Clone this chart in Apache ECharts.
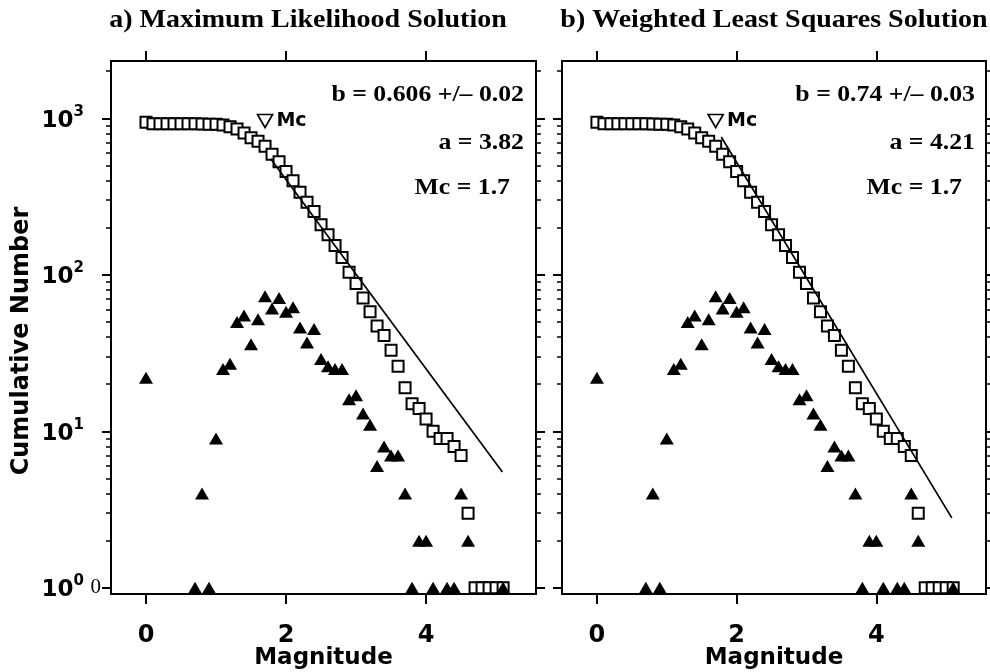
<!DOCTYPE html>
<html><head><meta charset="utf-8">
<script src="https://cdn.jsdelivr.net/npm/echarts@6/dist/echarts.min.js"></script>
<style>html,body{margin:0;padding:0;background:#fff}#c{width:990px;height:672px}</style>
</head><body><div id="c"></div>
<script>
// Cumulative number of events N(>=M)
const cumMag = [0.0,0.1,0.2,0.3,0.4,0.5,0.6,0.7,0.8,0.9,1.0,1.1,1.2,1.3,1.4,1.5,1.6,1.7,1.8,1.9,2.0,2.1,2.2,2.3,2.4,2.5,2.6,2.7,2.8,2.9,3.0,3.1,3.2,3.3,3.4,3.5,3.6,3.7,3.8,3.9,4.0,4.1,4.2,4.3,4.4,4.5,4.6,4.7,4.8,4.9,5.0,5.1];
const cumN   = [944,922,922,922,922,922,922,922,921,917,916,907,882,855,805,750,714,662,589,528,457,399,337,291,254,209,180,154,129,104,88,71,58,47,41,33,26,19,15,14,12,10,9,9,8,7,3,1,1,1,1,1];
// Non-cumulative number of events per magnitude bin
const incMag = [0.0,0.7,0.8,0.9,1.0,1.1,1.2,1.3,1.4,1.5,1.6,1.7,1.8,1.9,2.0,2.1,2.2,2.3,2.4,2.5,2.6,2.7,2.8,2.9,3.0,3.1,3.2,3.3,3.4,3.5,3.6,3.7,3.8,3.9,4.0,4.1,4.3,4.4,4.5,4.6,5.1];
const incN   = [22,1,4,1,9,25,27,50,55,36,52,73,61,71,58,62,46,37,45,29,26,25,25,16,17,13,11,6,8,7,7,4,1,2,2,1,1,1,4,2,1];
// Fitted Gutenberg-Richter lines (end points)
const mlLineMag  = [1.78, 5.09];
const mlLineN    = [551, 5.5];
const wlsLineMag = [1.78, 5.08];
const wlsLineN   = [760, 2.8];
// Magnitude of completeness marker
const mcMag = 1.7;
const mcN = 960;
// Ticks
const xTicks = [0, 2, 4];
const yMajor = [1, 10, 100, 1000];
const yMinor = [2,3,4,5,6,7,8,9,20,30,40,50,60,70,80,90,200,300,400,500,600,700,800,900,2000];
// Texts
const panelTitles = ['a) Maximum Likelihood Solution', 'b) Weighted Least Squares Solution'];
const panelNotes = [['b = 0.606 +/\u2013 0.02', 'a = 3.82', 'Mc = 1.7'], ['b = 0.74 +/\u2013 0.03', 'a = 4.21', 'Mc = 1.7']];
const xTitle = 'Magnitude';
const yTitle = 'Cumulative Number';
const lineMags = [mlLineMag, wlsLineMag];
const lineNs = [mlLineN, wlsLineN];

const chart = echarts.init(document.getElementById('c'), null, {renderer: 'canvas'});
const BLACK = '#000';
const SANS = 'DejaVu Sans';
const SERIF = 'Liberation Serif';
const grids = [
  {left: 111, top: 61, width: 425, height: 533, containLabel: false, outerBoundsMode: 'none'},
  {left: 562, top: 61, width: 424, height: 533, containLabel: false, outerBoundsMode: 'none'}
];
const XMIN = -0.5, XMAX = 5.57, YMIN = 0.913, YMAX = 2323;
const axisLine = {show: true, onZero: false, lineStyle: {color: BLACK, width: 2}};
const noLine = {show: false, onZero: false};

const xAxes = [], yAxes = [], series = [], graphics = [];
grids.forEach((g, i) => {
  xAxes.push({
    gridIndex: i, type: 'value', min: XMIN, max: XMAX, position: 'bottom',
    axisLine: axisLine,
    axisTick: {show: true, customValues: xTicks, length: 10, lineStyle: {color: BLACK, width: 2}},
    axisLabel: {customValues: xTicks, fontFamily: SANS, fontWeight: 'bold', fontSize: 24, color: BLACK, margin: 30},
    splitLine: {show: false},
    name: xTitle, nameLocation: 'middle', nameGap: 53, nameMoveOverlap: false,
    nameTextStyle: {fontFamily: SANS, fontWeight: 'bold', fontSize: 23, color: BLACK}
  });
  xAxes.push({
    gridIndex: i, type: 'value', min: XMIN, max: XMAX, position: 'top',
    axisLine: axisLine,
    axisTick: {show: true, customValues: xTicks, length: 10, lineStyle: {color: BLACK, width: 2}},
    axisLabel: {show: false}, splitLine: {show: false}
  });
  const yBase = {gridIndex: i, type: 'log', logBase: 10, min: YMIN, max: YMAX, splitLine: {show: false}};
  yAxes.push(Object.assign({}, yBase, {
    position: 'left', axisLine: axisLine,
    axisTick: {show: true, customValues: yMajor, length: 9, lineStyle: {color: BLACK, width: 2}},
    axisLabel: {show: i === 0, customValues: yMajor, margin: 27,
      formatter: v => '{b|10}{s|' + Math.round(Math.log10(v)) + '}',
      rich: {
        b: {fontFamily: SANS, fontWeight: 'bold', fontSize: 23, color: BLACK, verticalAlign: 'bottom', lineHeight: 28},
        s: {fontFamily: SANS, fontWeight: 'bold', fontSize: 15, color: BLACK, verticalAlign: 'top', lineHeight: 28}
      }}
  }));
  yAxes.push(Object.assign({}, yBase, {
    position: 'left', axisLine: noLine,
    axisTick: {show: true, customValues: yMinor, length: 5, lineStyle: {color: BLACK, width: 1.5}},
    axisLabel: {show: i === 0, customValues: [1], margin: 10, formatter: v => (v === 1 ? '0' : ''),
      fontFamily: SERIF, fontSize: 21, color: BLACK}
  }));
  yAxes.push(Object.assign({}, yBase, {
    position: 'right', axisLine: axisLine,
    axisTick: {show: true, customValues: yMajor, length: 9, lineStyle: {color: BLACK, width: 2}},
    axisLabel: {show: false}
  }));
  yAxes.push(Object.assign({}, yBase, {
    position: 'right', axisLine: noLine,
    axisTick: {show: true, customValues: yMinor, length: 5, lineStyle: {color: BLACK, width: 1.5}},
    axisLabel: {show: false}
  }));

  const xi = 2 * i, yi = 4 * i;
  series.push({
    type: 'scatter', xAxisIndex: xi, yAxisIndex: yi, symbol: 'rect', symbolSize: 11,
    itemStyle: {color: '#fff', borderColor: BLACK, borderWidth: 2, opacity: 1},
    data: cumMag.map((m, k) => [m, cumN[k]]), z: 2, silent: true
  });
  series.push({
    type: 'line', xAxisIndex: xi, yAxisIndex: yi, symbol: 'none',
    lineStyle: {color: BLACK, width: 1.7},
    data: lineMags[i].map((m, k) => [m, lineNs[i][k]]), z: 3, silent: true
  });
  series.push({
    type: 'scatter', xAxisIndex: xi, yAxisIndex: yi, symbol: 'triangle', symbolSize: [14, 12],
    itemStyle: {color: BLACK, opacity: 1},
    data: incMag.map((m, k) => [m, incN[k]]), z: 4, silent: true
  });
  series.push({
    type: 'scatter', xAxisIndex: xi, yAxisIndex: yi, symbol: 'path://M0,0 L10,0 L5,9 Z', symbolSize: [15, 13],
    itemStyle: {color: '#fff', borderColor: BLACK, borderWidth: 1.7, opacity: 1},
    label: {show: true, position: 'right', distance: 3, formatter: 'Mc', fontFamily: SANS, fontWeight: 'bold', fontSize: 19, color: BLACK},
    data: [[mcMag, mcN]], z: 5, silent: true
  });

  graphics.push({
    type: 'text', x: [308, 774][i], y: 21, scaleX: 1.12, z: 10,
    style: {text: panelTitles[i], font: 'bold 25px "Liberation Serif"', fill: BLACK, textAlign: 'center', textVerticalAlign: 'middle'}
  });
  const rx = [[524, 524, 510], [975, 975, 962]][i];
  const ry = [95, 143, 188];
  panelNotes[i].forEach((t, k) => {
    graphics.push({
      type: 'text', x: rx[k], y: ry[k], scaleX: 1.12, z: 10,
      style: {text: t, font: 'bold 23px "Liberation Serif"', fill: BLACK, textAlign: 'right', textVerticalAlign: 'middle'}
    });
  });
});
graphics.push({
  type: 'text', x: 22, y: 341, rotation: Math.PI / 2, z: 10,
  style: {text: yTitle, font: 'bold 24px "DejaVu Sans"', fill: BLACK, textAlign: 'center', textVerticalAlign: 'middle'}
});

chart.setOption({
  animation: false,
  backgroundColor: '#fff',
  grid: grids,
  xAxis: xAxes,
  yAxis: yAxes,
  series: series,
  graphic: graphics
});
</script>
</body></html>
